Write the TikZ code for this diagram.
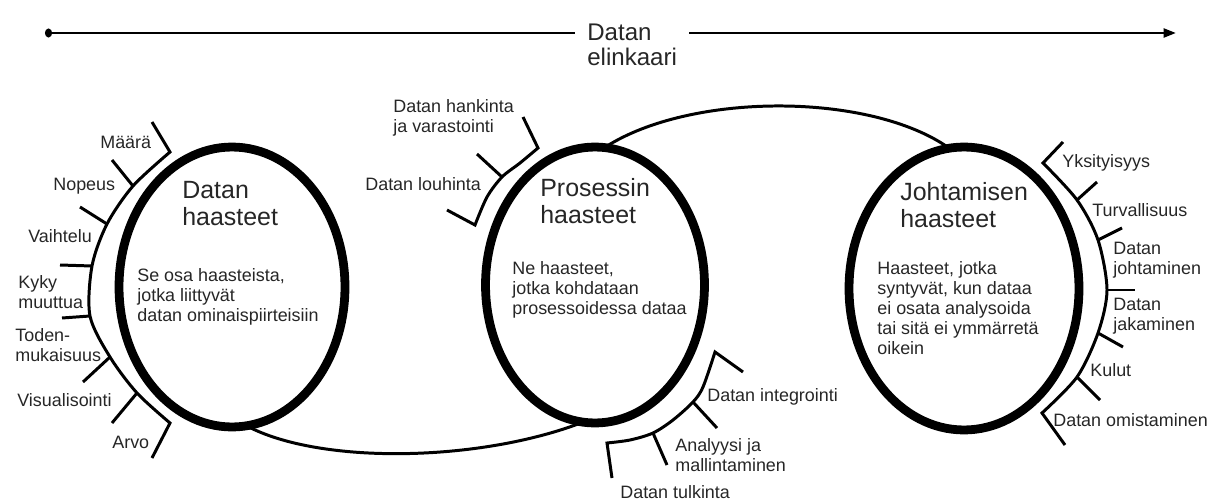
\documentclass[tikz,border=0pt]{standalone}
\usepackage{fontspec}
\setmainfont{Liberation Sans}
\usetikzlibrary{shapes.geometric,arrows.meta}

\newcommand{\lblfont}{\fontsize{10.2}{11.4}\selectfont}
\newcommand{\ttlfont}{\fontsize{14.2}{15.4}\selectfont}
\newcommand{\axfont}{\fontsize{13.7}{14.2}\selectfont}

\tikzset{
  stage/.style={draw, ellipse, line width=5pt, inner sep=0pt, outer sep=0pt},
  bracket/.style={line width=1.7pt},
  link/.style={line width=1.7pt},
  axis/.style={line width=1.5pt},
  lab/.style={anchor=west, inner sep=0pt, align=left, text=black!85, font=\lblfont},
  ttl/.style={anchor=west, inner sep=0pt, align=left, text=black!85, font=\ttlfont},
}

\begin{document}
\begin{tikzpicture}[x=0.02cm, y=-0.02cm]
	\useasboundingbox (0,0) rectangle (1214,500);

	% aikajana
	\coordinate (axstart) at (45,33);
	\coordinate (axend) at (1176,33);
	\node[anchor=west, inner xsep=0.24cm, inner ysep=0pt, align=left, text=black!85, font=\axfont] (life) at (575,45) {Datan\\elinkaari};
	\draw[axis, {Circle[length=4pt,width=5pt]}-] (axstart) -- (axstart -| life.west);
	\draw[axis, -{Triangle[length=7pt,width=5pt]}] (axstart -| life.east) -- (axend);

	% haasteiden ryhmat
	\node[stage, minimum width=4.52cm, minimum height=5.6cm] (dh) at (232,287) {};
	\node[stage, minimum width=4.38cm, minimum height=5.52cm] (ph) at (595,285) {};
	\node[stage, minimum width=4.6cm, minimum height=5.66cm] (jh) at (964,288.5) {};

	\draw[link] (dh.-84) .. controls (320,465) and (480,462) .. (ph.-95);
	\draw[link] (ph.86) .. controls (690,92) and (870,92) .. (jh.96);

	% Datan haasteet
	\draw[bracket] (152,122) -- plot[smooth] coordinates {(170,152) (133,186) (107,224) (92,266) (90,316) (110,357) (137,393) (170,423)} -- (152,458);
	\foreach \xa/\ya/\xb/\yb in {133/186/112/160, 107/224/80/207, 92/266/60/265, 90/316/62/318, 110/357/83/382, 137/393/112/423}
		\draw[bracket] (\xa,\ya) -- (\xb,\yb);

	\node[lab] (maara) at (100,142) {Määrä};
	\node[lab] (nopeus) at (53,186) {Nopeus};
	\node[lab] (vaihtelu) at (28,236) {Vaihtelu};
	\node[lab] (kyky) at (18,292) {Kyky\\muuttua};
	\node[lab] (toden) at (15,345) {Toden-\\mukaisuus};
	\node[lab] (visual) at (17,400) {Visualisointi};
	\node[lab] (arvo) at (112,442) {Arvo};

	% Prosessin haasteet
	\draw[bracket] (523,117) -- plot[smooth] coordinates {(538,148) (520,163) (502,177) (487,197) (475,225)} -- (447,210);
	\draw[bracket] (502,177) -- (477,154);
	\draw[bracket] (743,372) -- plot[smooth] coordinates {(715,352) (703,387) (693,402) (673,420) (653,433) (630,440) (607,443)} -- (612,478);
	\foreach \xa/\ya/\xb/\yb in {693/402/717/428, 653/433/667/465}
		\draw[bracket] (\xa,\ya) -- (\xb,\yb);

	\node[lab] (hankinta) at (393,118) {Datan hankinta\\ja varastointi};
	\node[lab] (louhinta) at (365,184) {Datan louhinta};
	\node[lab] (integr) at (707,397) {Datan integrointi};
	\node[lab] (analyysi) at (675,455) {Analyysi ja\\mallintaminen};
	\node[lab] (tulkinta) at (620,492) {Datan tulkinta};

	% Johtamisen haasteet
	\draw[bracket] (1063,142) -- plot[smooth] coordinates {(1043,163) (1077,200) (1098,240) (1107,290) (1098,333) (1077,377) (1042,413)} -- (1065,445);
	\foreach \xa/\ya/\xb/\yb in {1077/200/1097/182, 1098/240/1122/228, 1107/290/1135/290, 1098/333/1123/347, 1077/377/1100/400}
		\draw[bracket] (\xa,\ya) -- (\xb,\yb);

	\node[lab] (yksit) at (1062,163) {Yksityisyys};
	\node[lab] (turva) at (1092,210) {Turvallisuus};
	\node[lab] (johtam) at (1113,260) {Datan\\johtaminen};
	\node[lab] (jakam) at (1113,316) {Datan\\jakaminen};
	\node[lab] (kulut) at (1090,370) {Kulut};
	\node[lab] (omist) at (1053,420) {Datan omistaminen};

	% otsikot ja kuvaukset
	\node[ttl] (dhtitle) at (182,204) {Datan\\haasteet};
	\node[ttl] (phtitle) at (540,201) {Prosessin\\haasteet};
	\node[ttl] (jhtitle) at (900,205) {Johtamisen\\haasteet};
	\node[lab] (dhtext) at (137,297) {Se osa haasteista,\\jotka liittyvät\\datan ominaispiirteisiin};
	\node[lab] (phtext) at (512,290) {Ne haasteet,\\jotka kohdataan\\prosessoidessa dataa};
	\node[lab] (jhtext) at (877,308) {Haasteet, jotka\\syntyvät, kun dataa\\ei osata analysoida\\tai sitä ei ymmärretä\\oikein};
\end{tikzpicture}
\end{document}
